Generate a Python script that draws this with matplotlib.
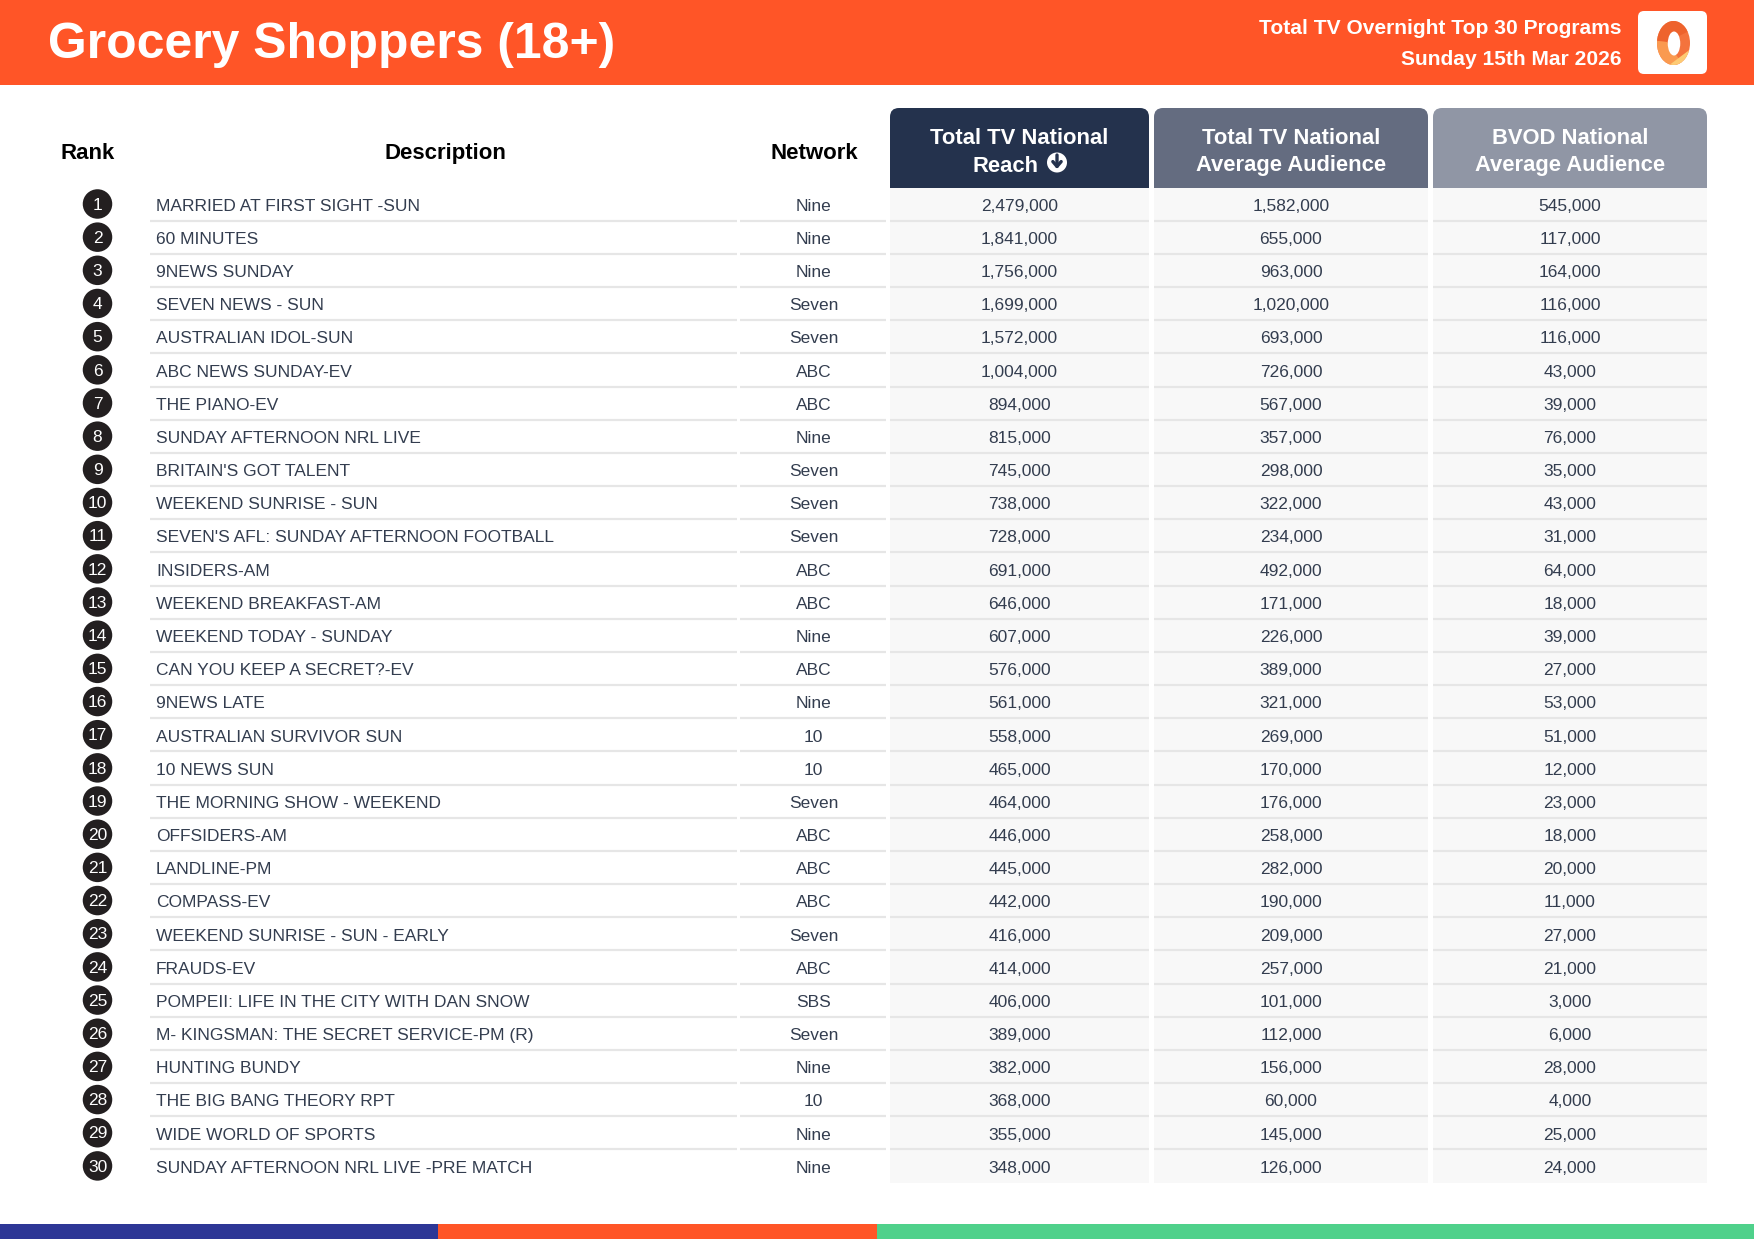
import matplotlib
matplotlib.use("Agg")
import matplotlib.pyplot as plt
from matplotlib.patches import Rectangle, Ellipse, Circle, FancyBboxPatch, Polygon

plt.rcParams['font.family'] = ['Liberation Sans', 'DejaVu Sans']

descriptions = ["MARRIED AT FIRST SIGHT -SUN", "60 MINUTES", "9NEWS SUNDAY", "SEVEN NEWS - SUN",
                "AUSTRALIAN IDOL-SUN", "ABC NEWS SUNDAY-EV", "THE PIANO-EV", "SUNDAY AFTERNOON NRL LIVE",
                "BRITAIN'S GOT TALENT", "WEEKEND SUNRISE - SUN", "SEVEN'S AFL: SUNDAY AFTERNOON FOOTBALL",
                "INSIDERS-AM", "WEEKEND BREAKFAST-AM", "WEEKEND TODAY - SUNDAY", "CAN YOU KEEP A SECRET?-EV",
                "9NEWS LATE", "AUSTRALIAN SURVIVOR SUN", "10 NEWS SUN", "THE MORNING SHOW - WEEKEND",
                "OFFSIDERS-AM", "LANDLINE-PM", "COMPASS-EV", "WEEKEND SUNRISE - SUN - EARLY", "FRAUDS-EV",
                "POMPEII: LIFE IN THE CITY WITH DAN SNOW", "M- KINGSMAN: THE SECRET SERVICE-PM (R)",
                "HUNTING BUNDY", "THE BIG BANG THEORY RPT", "WIDE WORLD OF SPORTS",
                "SUNDAY AFTERNOON NRL LIVE -PRE MATCH"]
networks = ["Nine", "Nine", "Nine", "Seven", "Seven", "ABC", "ABC", "Nine", "Seven", "Seven",
            "Seven", "ABC", "ABC", "Nine", "ABC", "Nine", "10", "10", "Seven", "ABC",
            "ABC", "ABC", "Seven", "ABC", "SBS", "Seven", "Nine", "10", "Nine", "Nine"]
reach = [2479000, 1841000, 1756000, 1699000, 1572000, 1004000, 894000, 815000, 745000, 738000,
         728000, 691000, 646000, 607000, 576000, 561000, 558000, 465000, 464000, 446000,
         445000, 442000, 416000, 414000, 406000, 389000, 382000, 368000, 355000, 348000]
avg_audience = [1582000, 655000, 963000, 1020000, 693000, 726000, 567000, 357000, 298000, 322000,
                234000, 492000, 171000, 226000, 389000, 321000, 269000, 170000, 176000, 258000,
                282000, 190000, 209000, 257000, 101000, 112000, 156000, 60000, 145000, 126000]
bvod = [545000, 117000, 164000, 116000, 116000, 43000, 39000, 76000, 35000, 43000,
        31000, 64000, 18000, 39000, 27000, 53000, 51000, 12000, 23000, 18000,
        20000, 11000, 27000, 21000, 3000, 6000, 28000, 4000, 25000, 24000]

ORANGE = '#FF5527'
TEXT = '#333D4F'
LINE = '#E6E6E6'
CELL = '#F8F8F8'
ROW_SIZE = 12.5

fig = plt.figure(figsize=(17.54, 12.41), dpi=100)
ax = fig.add_axes([0, 0, 1, 1])
ax.set_xlim(0, 1754)
ax.set_ylim(1241, 0)
ax.axis('off')

# banner
ax.add_patch(Rectangle((0, 0), 1754, 85, color=ORANGE, lw=0))
ax.text(48, 58.5, "Grocery Shoppers (18+)", color='white', fontsize=35.9, fontweight='bold', va='baseline')
ax.text(1621.5, 34, "Total TV Overnight Top 30 Programs", color='white', fontsize=15.1, fontweight='bold', ha='right', va='baseline')
ax.text(1621.5, 65, "Sunday 15th Mar 2026", color='white', fontsize=15.1, fontweight='bold', ha='right', va='baseline')

# logo
ax.add_patch(FancyBboxPatch((1638, 11), 69, 63, boxstyle="round,pad=0,rounding_size=6", lw=0, fc='white'))
outer = Ellipse((1673.5, 43), 33, 44, fc='#F4733D', lw=0)
ax.add_patch(outer)
for pts, col in [([(1650, 18), (1695, 18), (1695, 28), (1667, 42), (1650, 40)], '#EE632D'),
                 ([(1650, 40), (1667, 42), (1684, 66), (1650, 68)], '#FA9A50'),
                 ([(1668, 66), (1692, 48), (1695, 68)], '#FDCB74')]:
    p = Polygon(pts, fc=col, lw=0)
    ax.add_patch(p)
    p.set_clip_path(outer)
ax.add_patch(Ellipse((1674, 43.5), 12.5, 24, fc='white', lw=0))

# column headers
col_x = [(890, 1149), (1154, 1428), (1433, 1707)]
col_colors = ['#24324D', '#646C80', '#9096A5']
col_titles = [("Total TV National", "Reach"), ("Total TV National", "Average Audience"), ("BVOD National", "Average Audience")]
header_top, header_bottom = 108, 188
for (x0, x1), c, (l1, l2) in zip(col_x, col_colors, col_titles):
    ax.add_patch(FancyBboxPatch((x0, header_top), x1 - x0, 30, boxstyle="round,pad=0,rounding_size=9", fc=c, lw=0))
    ax.add_patch(Rectangle((x0, header_top + 12), x1 - x0, header_bottom - header_top - 12, fc=c, lw=0))
    xc = (x0 + x1) / 2
    ax.text(xc, 144.5, l1, color='white', fontsize=15.8, fontweight='bold', ha='center', va='baseline')
    ax.text(xc - (13.5 if l2 == "Reach" else 0), 171.5, l2, color='white', fontsize=15.8, fontweight='bold', ha='center', va='baseline')

# sort icon
ax.add_patch(Circle((1057, 162.5), 10, fc='white', lw=0))
ax.annotate('', xy=(1057, 169), xytext=(1057, 155), arrowprops=dict(arrowstyle='->,head_width=0.3,head_length=0.35', color=col_colors[0], lw=2.4, shrinkA=0, shrinkB=0))

ax.text(87.5, 158.8, "Rank", color='black', fontsize=16, fontweight='bold', ha='center', va='baseline')
ax.text(445, 158.8, "Description", color='black', fontsize=16, fontweight='bold', ha='center', va='baseline')
ax.text(814, 158.8, "Network", color='black', fontsize=16, fontweight='bold', ha='center', va='baseline')

# rows
row_h = 33.17
line_spans = [(150, 737), (740, 886)] + col_x
for x0, x1 in col_x:
    ax.add_patch(Rectangle((x0, header_bottom), x1 - x0, row_h * len(reach), fc=CELL, lw=0))

for i in range(len(reach)):
    top = header_bottom + i * row_h
    yc = top + row_h / 2
    base = yc + 6.2
    ax.add_patch(Ellipse((97.5, yc - 0.6), 29.5, 29.5, fc='#231F20', lw=0, zorder=3))
    ax.text(97.5, base - 1.1, str(i + 1), color='white', fontsize=ROW_SIZE, ha='center', va='baseline', zorder=4)
    ax.text(156, base, descriptions[i], color=TEXT, fontsize=ROW_SIZE, ha='left', va='baseline')
    ax.text(813.5, base, networks[i], color=TEXT, fontsize=ROW_SIZE, ha='center', va='baseline')
    for (x0, x1), vals in zip(col_x, [reach, avg_audience, bvod]):
        ax.text((x0 + x1) / 2, base, f"{vals[i]:,}", color=TEXT, fontsize=ROW_SIZE, ha='center', va='baseline')
    if i < len(reach) - 1:
        for x0, x1 in line_spans:
            ax.plot([x0, x1], [top + row_h - 0.5, top + row_h - 0.5], color=LINE, lw=1.6, solid_capstyle='butt')

# footer bar
for x0, x1, c in [(0, 438, '#2D3796'), (438, 877, ORANGE), (877, 1754, '#4FD18B')]:
    ax.add_patch(Rectangle((x0, 1224), x1 - x0, 15, fc=c, lw=0))

fig.savefig("out.png", dpi=100)
